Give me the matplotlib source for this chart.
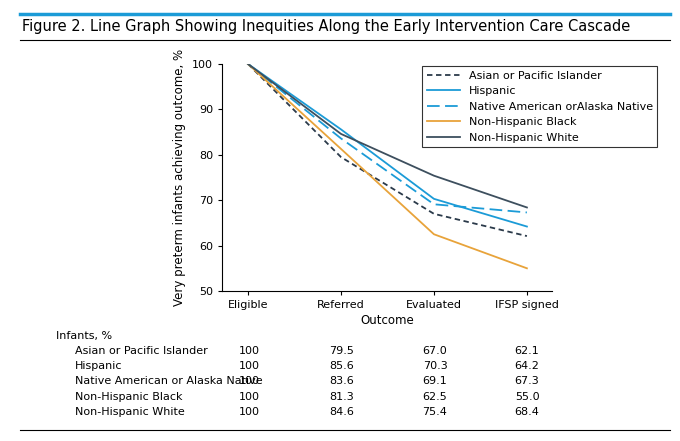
import matplotlib
matplotlib.use("Agg")
import matplotlib.pyplot as plt
from matplotlib import font_manager

names = {f.name for f in font_manager.fontManager.ttflist}
plt.rcParams["font.family"] = ["Liberation Sans Narrow"] if "Liberation Sans Narrow" in names else ["DejaVu Sans"]

stages = ["Eligible", "Referred", "Evaluated", "IFSP signed"]
groups = ["Asian or Pacific Islander", "Hispanic", "Native American orAlaska Native",
          "Non-Hispanic Black", "Non-Hispanic White"]
table_names = ["Asian or Pacific Islander", "Hispanic", "Native American or Alaska Native",
               "Non-Hispanic Black", "Non-Hispanic White"]
asian = [100, 79.5, 67.0, 62.1]
hispanic = [100, 85.6, 70.3, 64.2]
native = [100, 83.6, 69.1, 67.3]
black = [100, 81.3, 62.5, 55.0]
white = [100, 84.6, 75.4, 68.4]
series = [asian, hispanic, native, black, white]
colors = ["#2b3a4a", "#1b9bd7", "#1b9bd7", "#e8a33a", "#3d4f5e"]
styles = [(0, (3, 2)), "-", (0, (7, 3)), "-", "-"]

W, H = 680, 441
fig = plt.figure(figsize=(W/100, H/100), dpi=100)
fig.add_artist(plt.Line2D([0.03, 0.985], [1-14/H]*2, color="#1b9bd7", lw=2.5))
fig.add_artist(plt.Line2D([0.03, 0.985], [1-40/H]*2, color="black", lw=0.8))
fig.add_artist(plt.Line2D([0.03, 0.985], [1-430/H]*2, color="black", lw=0.8))
fig.text(22/W, 1-27/H, "Figure 2. Line Graph Showing Inequities Along the Early Intervention Care Cascade",
         fontsize=10.5, va="center", ha="left")

x0, x1, yt, yb = 222, 552, 64, 291
ax = fig.add_axes([x0/W, 1-yb/H, (x1-x0)/W, (yb-yt)/H])
xs = list(range(len(stages)))
for s, n, c, ls in zip(series, groups, colors, styles):
    ax.plot(xs, s, color=c, ls=ls, lw=1.3, label=n)
ax.set_xlim(-0.28, 3.27)
ax.set_ylim(50, 100)
ax.set_yticks(range(50, 101, 10))
ax.set_xticks(xs)
ax.set_xticklabels(stages)
ax.tick_params(labelsize=8, length=3)
for sp in ["top", "right"]:
    ax.spines[sp].set_visible(False)
ax.set_xlabel("Outcome", fontsize=8.5, labelpad=3)
ax.set_ylabel("Very preterm infants achieving outcome, %", fontsize=8.5)
leg = ax.legend(loc="upper left", bbox_to_anchor=((420-x0)/(x1-x0), 1.0), fontsize=8, frameon=True,
                fancybox=False, edgecolor="black", handlelength=3, borderaxespad=0.2)
leg.get_frame().set_linewidth(0.8)

fig.text(56/W, 1-336/H, "Infants, %", fontsize=8, va="center")
colx = [249, 342, 435, 527]
for i, (n, s) in enumerate(zip(table_names, series)):
    y = 1-(351+15.2*i)/H
    fig.text(75/W, y, n, fontsize=8, va="center")
    for cx, v in zip(colx, s):
        fig.text(cx/W, y, "100" if v == 100 else f"{v:.1f}", fontsize=8, va="center", ha="center")

fig.savefig("out.png", dpi=100)
